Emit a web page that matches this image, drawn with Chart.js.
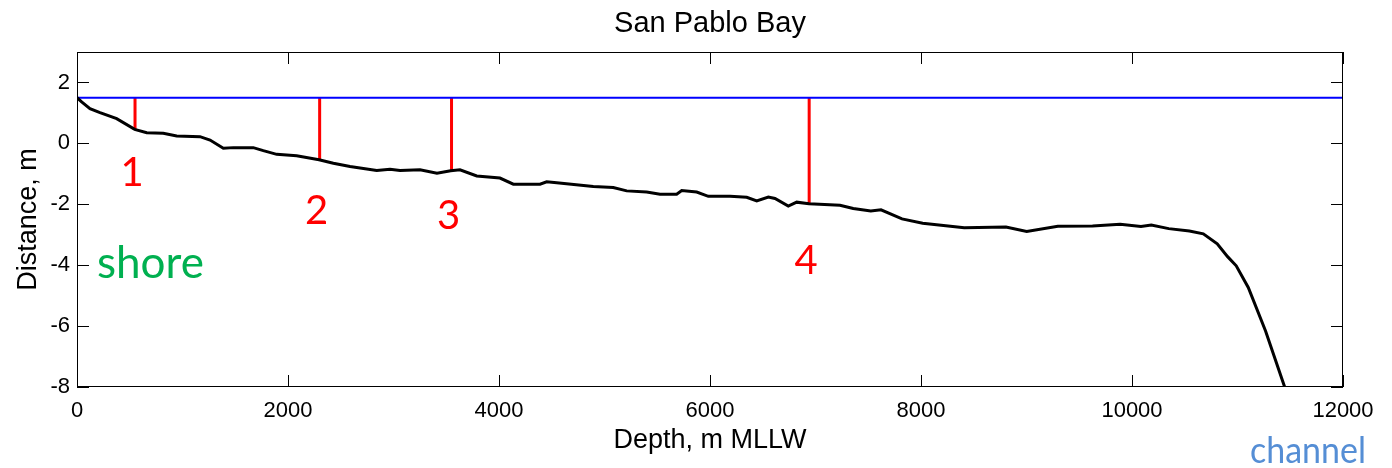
<!DOCTYPE html>
<html>
<head>
<meta charset="utf-8">
<script src="https://cdn.jsdelivr.net/npm/chart.js@4"></script>
<style>
  html, body { margin: 0; padding: 0; background: #fff; }
  #wrap { width: 1392px; height: 468px; }
</style>
</head>
<body>
<div id="wrap"><canvas id="chart"></canvas></div>
<script>
// profile
const depth = [0, 44, 123, 218, 376, 547, 661, 818, 945, 1166, 1261, 1387, 1482, 1671, 1766, 1893, 2082, 2294, 2430, 2588,
  2841, 2967, 3062, 3251, 3412, 3542, 3630, 3789, 4009, 4136, 4389, 4452, 4547, 4894, 5083, 5210, 5400, 5526, 5684, 5732,
  5874, 5984, 6190, 6348, 6443, 6553, 6616, 6742, 6822, 6938, 7232, 7358, 7524, 7621, 7820, 8016, 8410, 8805, 9002, 9297,
  9626, 9888, 10085, 10183, 10348, 10544, 10676, 10808, 10906, 10988, 11102, 11266, 11447]
const elev = [1.5, 1.36, 1.14, 1.01, 0.81, 0.46, 0.35, 0.33, 0.24, 0.22, 0.11, -0.16, -0.14, -0.14, -0.24, -0.36, -0.41, -0.54, -0.65, -0.76,
  -0.89, -0.85, -0.89, -0.87, -0.98, -0.9, -0.87, -1.07, -1.14, -1.34, -1.34, -1.26, -1.29, -1.42, -1.45, -1.56, -1.6, -1.67, -1.67, -1.55,
  -1.6, -1.74, -1.74, -1.77, -1.89, -1.76, -1.81, -2.06, -1.93, -1.98, -2.03, -2.14, -2.22, -2.18, -2.48, -2.62, -2.77, -2.75, -2.89, -2.72,
  -2.71, -2.66, -2.73, -2.68, -2.8, -2.88, -2.97, -3.3, -3.72, -4.02, -4.73, -6.16, -8.0]

const waterLevel = 1.5
const stationNames = ['1', '2', '3', '4']
const stationX = [550, 2300, 3550, 6940]
const stationBed = [0.46, -0.54, -0.9, -1.98]
const stationLabelY = [-0.97, -2.24, -2.4, -3.87]

const xTicks = [0, 2000, 4000, 6000, 8000, 10000, 12000]
const yTicks = [-8, -6, -4, -2, 0, 2]

const sans = '"Liberation Sans", Arial, sans-serif'
const calibri = 'Lato, "Open Sans", sans-serif'

const datasets = []
datasets.push({
  data: depth.map((d, i) => ({ x: d, y: elev[i] })),
  borderColor: '#000', borderWidth: 3, pointRadius: 0
})
datasets.push({
  data: [{ x: 0, y: waterLevel }, { x: 12000, y: waterLevel }],
  borderColor: '#0000ff', borderWidth: 2, pointRadius: 0
})
stationX.forEach((x, i) => {
  datasets.push({
    data: [{ x, y: waterLevel }, { x, y: stationBed[i] }],
    borderColor: '#ff0000', borderWidth: 3, pointRadius: 0
  })
})

// box, inward ticks and all the extra text
const frame = {
  id: 'frame',
  afterDraw(chart) {
    const { ctx, chartArea: a, scales: { x, y } } = chart
    ctx.save()
    ctx.strokeStyle = '#000'
    ctx.lineWidth = 1
    ctx.strokeRect(a.left + 0.5, a.top + 0.5, a.right - a.left - 1, a.bottom - a.top - 1)
    ctx.beginPath()
    xTicks.forEach(v => {
      const px = Math.round(x.getPixelForValue(v)) + 0.5
      ctx.moveTo(px, a.bottom); ctx.lineTo(px, a.bottom - 12)
      ctx.moveTo(px, a.top); ctx.lineTo(px, a.top + 12)
    })
    yTicks.forEach(v => {
      const py = Math.round(y.getPixelForValue(v)) + 0.5
      ctx.moveTo(a.left, py); ctx.lineTo(a.left + 12, py)
      ctx.moveTo(a.right, py); ctx.lineTo(a.right - 12, py)
    })
    ctx.stroke()

    const cx = (a.left + a.right) / 2
    ctx.fillStyle = '#000'
    ctx.textAlign = 'center'
    ctx.textBaseline = 'alphabetic'
    ctx.font = '29px ' + sans
    ctx.fillText('San Pablo Bay', cx, 32)
    ctx.font = '27px ' + sans
    ctx.fillText('Depth, m MLLW', cx, 448)
    ctx.save()
    ctx.translate(36, (a.top + a.bottom) / 2)
    ctx.rotate(-Math.PI / 2)
    ctx.fillText('Distance, m', 0, 0)
    ctx.restore()

    ctx.fillStyle = '#ff0000'
    ctx.font = '40px ' + calibri
    ctx.textBaseline = 'middle'
    stationNames.forEach((n, i) => {
      ctx.fillText(n, x.getPixelForValue(stationX[i]) - 3, y.getPixelForValue(stationLabelY[i]))
    })

    ctx.textBaseline = 'alphabetic'
    ctx.textAlign = 'left'
    ctx.fillStyle = '#00b050'
    ctx.font = '44px ' + calibri
    ctx.fillText('shore', 97, 278, 108)
    ctx.textAlign = 'right'
    ctx.fillStyle = '#558ed5'
    ctx.font = '37px ' + calibri
    ctx.fillText('channel', 1366, 463, 116)
    ctx.restore()
  }
}

new Chart(document.getElementById('chart'), {
  type: 'scatter',
  data: { datasets },
  options: {
    responsive: true,
    maintainAspectRatio: false,
    animation: false,
    showLine: true,
    layout: { padding: { top: 52, right: 49, left: 0, bottom: 0 } },
    plugins: { legend: { display: false }, tooltip: { enabled: false } },
    scales: {
      x: {
        type: 'linear', min: 0, max: 12000,
        afterFit: s => { s.height = 81 },
        afterBuildTicks: s => { s.ticks = xTicks.map(value => ({ value })) },
        grid: { display: false, drawTicks: false },
        border: { display: false },
        ticks: { color: '#000', font: { family: sans, size: 22 }, padding: 11, maxRotation: 0, callback: v => String(v) }
      },
      y: {
        type: 'linear', min: -8, max: 3,
        afterFit: s => { s.width = 77 },
        afterBuildTicks: s => { s.ticks = yTicks.map(value => ({ value })) },
        grid: { display: false, drawTicks: false },
        border: { display: false },
        ticks: { color: '#000', font: { family: sans, size: 22 }, padding: 7, callback: v => String(v) }
      }
    }
  },
  plugins: [frame]
})
</script>
</body>
</html>
